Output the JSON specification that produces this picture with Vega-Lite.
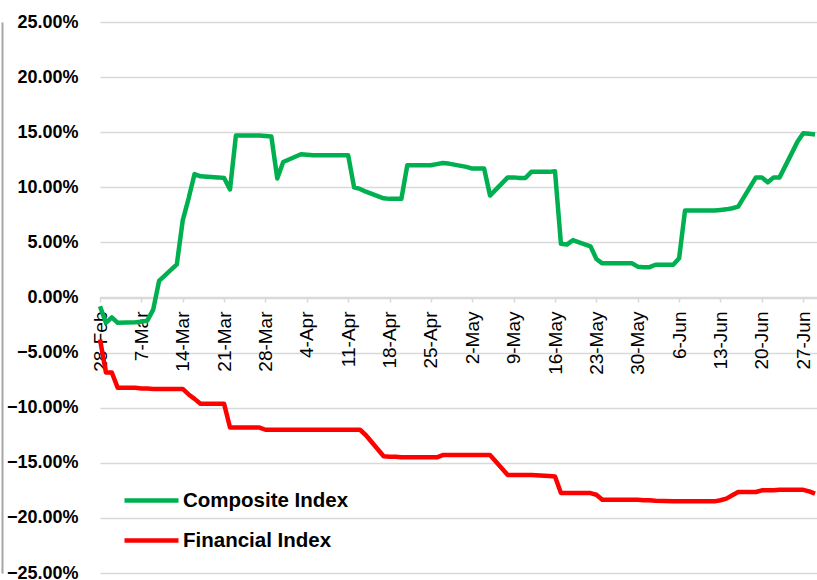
{
  "$schema": "https://vega.github.io/schema/vega-lite/v6.json",
  "width": 717,
  "height": 551,
  "autosize": {"type": "none"},
  "padding": {"left": 100, "top": 22, "right": 0, "bottom": 7},
  "background": "white",
  "config": {"view": {"stroke": null}, "font": "Liberation Sans"},
  "data": {"values": [
    {"date":"2022-02-28","Composite Index":-0.008,"Financial Index":-0.038},
    {"date":"2022-03-01","Composite Index":-0.023,"Financial Index":-0.068},
    {"date":"2022-03-02","Composite Index":-0.018,"Financial Index":-0.068},
    {"date":"2022-03-03","Composite Index":-0.023,"Financial Index":-0.082},
    {"date":"2022-03-06","Composite Index":-0.0225,"Financial Index":-0.082},
    {"date":"2022-03-07","Composite Index":-0.022,"Financial Index":-0.0825},
    {"date":"2022-03-08","Composite Index":-0.021,"Financial Index":-0.0825},
    {"date":"2022-03-09","Composite Index":-0.011,"Financial Index":-0.083},
    {"date":"2022-03-10","Composite Index":0.015,"Financial Index":-0.083},
    {"date":"2022-03-13","Composite Index":0.030,"Financial Index":-0.083},
    {"date":"2022-03-14","Composite Index":0.070,"Financial Index":-0.083},
    {"date":"2022-03-15","Composite Index":0.090,"Financial Index":-0.088},
    {"date":"2022-03-16","Composite Index":0.112,"Financial Index":-0.092},
    {"date":"2022-03-17","Composite Index":0.110,"Financial Index":-0.0965},
    {"date":"2022-03-20","Composite Index":0.109,"Financial Index":-0.0965},
    {"date":"2022-03-21","Composite Index":0.1085,"Financial Index":-0.0965},
    {"date":"2022-03-22","Composite Index":0.098,"Financial Index":-0.118},
    {"date":"2022-03-23","Composite Index":0.147,"Financial Index":-0.118},
    {"date":"2022-03-24","Composite Index":0.147,"Financial Index":-0.118},
    {"date":"2022-03-27","Composite Index":0.147,"Financial Index":-0.118},
    {"date":"2022-03-28","Composite Index":0.1465,"Financial Index":-0.120},
    {"date":"2022-03-29","Composite Index":0.146,"Financial Index":-0.120},
    {"date":"2022-03-30","Composite Index":0.108,"Financial Index":-0.120},
    {"date":"2022-03-31","Composite Index":0.123,"Financial Index":-0.120},
    {"date":"2022-04-03","Composite Index":0.130,"Financial Index":-0.120},
    {"date":"2022-04-04","Composite Index":0.1295,"Financial Index":-0.120},
    {"date":"2022-04-05","Composite Index":0.129,"Financial Index":-0.120},
    {"date":"2022-04-06","Composite Index":0.129,"Financial Index":-0.120},
    {"date":"2022-04-07","Composite Index":0.129,"Financial Index":-0.120},
    {"date":"2022-04-10","Composite Index":0.129,"Financial Index":-0.120},
    {"date":"2022-04-11","Composite Index":0.129,"Financial Index":-0.120},
    {"date":"2022-04-12","Composite Index":0.100,"Financial Index":-0.120},
    {"date":"2022-04-13","Composite Index":0.0985,"Financial Index":-0.120},
    {"date":"2022-04-14","Composite Index":0.096,"Financial Index":-0.125},
    {"date":"2022-04-17","Composite Index":0.090,"Financial Index":-0.144},
    {"date":"2022-04-18","Composite Index":0.0895,"Financial Index":-0.1445},
    {"date":"2022-04-19","Composite Index":0.0895,"Financial Index":-0.1445},
    {"date":"2022-04-20","Composite Index":0.0895,"Financial Index":-0.145},
    {"date":"2022-04-21","Composite Index":0.120,"Financial Index":-0.145},
    {"date":"2022-04-24","Composite Index":0.120,"Financial Index":-0.145},
    {"date":"2022-04-25","Composite Index":0.120,"Financial Index":-0.145},
    {"date":"2022-04-26","Composite Index":0.121,"Financial Index":-0.145},
    {"date":"2022-04-27","Composite Index":0.122,"Financial Index":-0.143},
    {"date":"2022-04-28","Composite Index":0.1215,"Financial Index":-0.143},
    {"date":"2022-05-01","Composite Index":0.1185,"Financial Index":-0.143},
    {"date":"2022-05-02","Composite Index":0.117,"Financial Index":-0.143},
    {"date":"2022-05-03","Composite Index":0.117,"Financial Index":-0.143},
    {"date":"2022-05-04","Composite Index":0.117,"Financial Index":-0.143},
    {"date":"2022-05-05","Composite Index":0.0925,"Financial Index":-0.143},
    {"date":"2022-05-08","Composite Index":0.109,"Financial Index":-0.161},
    {"date":"2022-05-09","Composite Index":0.109,"Financial Index":-0.161},
    {"date":"2022-05-10","Composite Index":0.1085,"Financial Index":-0.161},
    {"date":"2022-05-11","Composite Index":0.1085,"Financial Index":-0.161},
    {"date":"2022-05-12","Composite Index":0.114,"Financial Index":-0.161},
    {"date":"2022-05-15","Composite Index":0.114,"Financial Index":-0.162},
    {"date":"2022-05-16","Composite Index":0.1145,"Financial Index":-0.1625},
    {"date":"2022-05-17","Composite Index":0.0487,"Financial Index":-0.1775},
    {"date":"2022-05-18","Composite Index":0.048,"Financial Index":-0.1775},
    {"date":"2022-05-19","Composite Index":0.052,"Financial Index":-0.1775},
    {"date":"2022-05-22","Composite Index":0.0465,"Financial Index":-0.1775},
    {"date":"2022-05-23","Composite Index":0.035,"Financial Index":-0.179},
    {"date":"2022-05-24","Composite Index":0.031,"Financial Index":-0.1835},
    {"date":"2022-05-25","Composite Index":0.031,"Financial Index":-0.1835},
    {"date":"2022-05-26","Composite Index":0.031,"Financial Index":-0.1835},
    {"date":"2022-05-29","Composite Index":0.031,"Financial Index":-0.1835},
    {"date":"2022-05-30","Composite Index":0.028,"Financial Index":-0.1835},
    {"date":"2022-05-31","Composite Index":0.0275,"Financial Index":-0.184},
    {"date":"2022-06-01","Composite Index":0.0275,"Financial Index":-0.184},
    {"date":"2022-06-02","Composite Index":0.0297,"Financial Index":-0.1845},
    {"date":"2022-06-05","Composite Index":0.0297,"Financial Index":-0.185},
    {"date":"2022-06-06","Composite Index":0.0357,"Financial Index":-0.185},
    {"date":"2022-06-07","Composite Index":0.079,"Financial Index":-0.185},
    {"date":"2022-06-08","Composite Index":0.079,"Financial Index":-0.185},
    {"date":"2022-06-09","Composite Index":0.079,"Financial Index":-0.185},
    {"date":"2022-06-12","Composite Index":0.079,"Financial Index":-0.185},
    {"date":"2022-06-13","Composite Index":0.0795,"Financial Index":-0.184},
    {"date":"2022-06-14","Composite Index":0.080,"Financial Index":-0.1825},
    {"date":"2022-06-15","Composite Index":0.081,"Financial Index":-0.1795},
    {"date":"2022-06-16","Composite Index":0.0825,"Financial Index":-0.1765},
    {"date":"2022-06-19","Composite Index":0.109,"Financial Index":-0.1765},
    {"date":"2022-06-20","Composite Index":0.109,"Financial Index":-0.175},
    {"date":"2022-06-21","Composite Index":0.1045,"Financial Index":-0.175},
    {"date":"2022-06-22","Composite Index":0.109,"Financial Index":-0.175},
    {"date":"2022-06-23","Composite Index":0.109,"Financial Index":-0.1745},
    {"date":"2022-06-26","Composite Index":0.141,"Financial Index":-0.1745},
    {"date":"2022-06-27","Composite Index":0.149,"Financial Index":-0.1745},
    {"date":"2022-06-28","Composite Index":0.1485,"Financial Index":-0.176},
    {"date":"2022-06-29","Composite Index":0.148,"Financial Index":-0.178}
  ]},
  "transform": [
    {"fold": ["Composite Index", "Financial Index"], "as": ["series", "value"]}
  ],
  "mark": {"type": "line", "strokeWidth": 4.5, "strokeJoin": "round", "strokeCap": "butt"},
  "encoding": {
    "x": {
      "field": "date",
      "type": "temporal",
      "scale": {
        "type": "utc",
        "domain": [
          {"year": 2022, "month": 2, "date": 28, "utc": true},
          {"year": 2022, "month": 6, "date": 29, "hours": 8, "utc": true}
        ]
      },
      "axis": {
        "orient": "bottom",
        "offset": -276,
        "title": null,
        "grid": false,
        "values": [
          {"year": 2022, "month": 2, "date": 28, "utc": true},
          {"year": 2022, "month": 3, "date": 7, "utc": true},
          {"year": 2022, "month": 3, "date": 14, "utc": true},
          {"year": 2022, "month": 3, "date": 21, "utc": true},
          {"year": 2022, "month": 3, "date": 28, "utc": true},
          {"year": 2022, "month": 4, "date": 4, "utc": true},
          {"year": 2022, "month": 4, "date": 11, "utc": true},
          {"year": 2022, "month": 4, "date": 18, "utc": true},
          {"year": 2022, "month": 4, "date": 25, "utc": true},
          {"year": 2022, "month": 5, "date": 2, "utc": true},
          {"year": 2022, "month": 5, "date": 9, "utc": true},
          {"year": 2022, "month": 5, "date": 16, "utc": true},
          {"year": 2022, "month": 5, "date": 23, "utc": true},
          {"year": 2022, "month": 5, "date": 30, "utc": true},
          {"year": 2022, "month": 6, "date": 6, "utc": true},
          {"year": 2022, "month": 6, "date": 13, "utc": true},
          {"year": 2022, "month": 6, "date": 20, "utc": true},
          {"year": 2022, "month": 6, "date": 27, "utc": true}
        ],
        "labelExpr": "utcFormat(datum.value, '%-d-%b')",
        "labelAngle": 270,
        "labelFont": "Liberation Sans",
        "labelFontSize": 19,
        "labelColor": "#000000",
        "labelPadding": 9,
        "labelOverlap": false,
        "labelFlush": false,
        "tickColor": "#d9d9d9",
        "tickSize": 5,
        "tickWidth": 1.5,
        "domainColor": "#d9d9d9",
        "domainWidth": 1.5
      }
    },
    "y": {
      "field": "value",
      "type": "quantitative",
      "scale": {"domain": [-0.25, 0.25], "nice": false},
      "axis": {
        "title": null,
        "values": [-0.25, -0.2, -0.15, -0.1, -0.05, 0, 0.05, 0.1, 0.15, 0.2, 0.25],
        "format": ".2%",
        "labelFont": "Liberation Sans",
        "labelFontSize": 18,
        "labelFontWeight": "bold",
        "labelColor": "#000000",
        "ticks": false,
        "offset": 98,
        "domain": true,
        "domainColor": "#a6a6a6",
        "domainWidth": 2,
        "labelPadding": -76,
        "gridColor": "#d9d9d9",
        "gridWidth": 1.5
      }
    },
    "color": {
      "field": "series",
      "type": "nominal",
      "scale": {"domain": ["Composite Index", "Financial Index"], "range": ["#00b050", "#ff0000"]},
      "legend": {
        "title": null,
        "orient": "none",
        "legendX": 22,
        "legendY": 449,
        "symbolType": "stroke",
        "symbolSize": 2916,
        "symbolStrokeWidth": 4.5,
        "labelFont": "Liberation Sans",
        "labelFontSize": 20.5,
        "labelFontWeight": "bold",
        "labelColor": "#000000",
        "labelLimit": 400,
        "labelOffset": 2,
        "rowPadding": -11
      }
    }
  }
}
